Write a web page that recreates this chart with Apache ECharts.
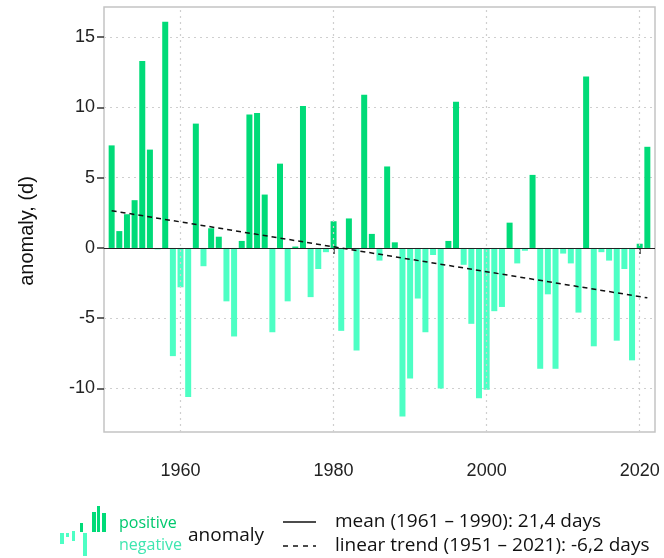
<!DOCTYPE html>
<html>
<head>
<meta charset="utf-8">
<script src="https://cdn.jsdelivr.net/npm/echarts@6/dist/echarts.min.js"></script>
<style>
  html, body { margin: 0; padding: 0; background: #fff; }
  #chart { width: 664px; height: 558px; }
</style>
</head>
<body>
<div id="chart"></div>
<script>
var chart = echarts.init(document.getElementById('chart'));

var years = [];
for (var y = 1951; y <= 2021; y++) years.push(y);

// anomaly in days, 1951..2021
var anomaly = [
  7.3, 1.2, 2.4, 3.4, 13.3, 7.0, -0.1, 16.1, -7.7, -2.8,
  -10.6, 8.85, -1.3, 1.4, 0.8, -3.8, -6.3, 0.5, 9.5, 9.6,
  3.8, -6.0, 6.0, -3.8, 0.1, 10.1, -3.5, -1.5, -0.3, 1.9,
  -5.9, 2.1, -7.3, 10.9, 1.0, -0.9, 5.8, 0.4, -12.0, -9.3,
  -3.6, -6.0, -0.5, -10.0, 0.5, 10.4, -1.2, -5.4, -10.7, -10.1,
  -4.5, -4.2, 1.8, -1.1, -0.2, 5.2, -8.6, -3.3, -8.6, -0.4,
  -1.1, -4.6, 12.2, -7.0, -0.3, -0.9, -6.6, -1.5, -8.0, 0.3,
  7.2
];

var trendYears = [1951, 2021];
var trendValues = [2.65, -3.55];

var xTicks = [1960, 1980, 2000, 2020];
var yTicks = [-10, -5, 0, 5, 10, 15];

var posColor = '#00db78';
var negColor = '#4dffc4';

var posData = [], negData = [];
years.forEach(function (yr, i) {
  var v = anomaly[i];
  posData.push([yr, v >= 0 ? v : 0]);
  negData.push([yr, v < 0 ? v : 0]);
});
var trendData = trendYears.map(function (yr, i) { return [yr, trendValues[i]]; });

var font = '"Liberation Sans", Arial, sans-serif';
var legFont = '"Open Sans", sans-serif';

option = {
  animation: false,
  grid: {
    left: 104, right: 9, top: 7, bottom: 126,
    show: true, borderColor: '#c4c4c4', borderWidth: 1.5
  },
  xAxis: {
    type: 'value', min: 1950, max: 2022,
    axisLine: { show: false },
    axisTick: { show: true, customValues: xTicks, length: 6, lineStyle: { color: '#333', width: 1.5 } },
    axisLabel: {
      customValues: xTicks, margin: 30, fontSize: 18, color: '#222', fontFamily: font,
      formatter: function (v) { return String(v); }
    },
    splitLine: { show: false }
  },
  yAxis: {
    type: 'value', min: -13.1, max: 17.15,
    axisLine: { show: false },
    axisTick: { show: true, customValues: yTicks, length: 7, lineStyle: { color: '#333', width: 1.5 } },
    axisLabel: {
      customValues: yTicks, margin: 9, fontSize: 18, color: '#222', fontFamily: font,
      formatter: function (v) { return String(v); }
    },
    splitLine: { show: true, lineStyle: { type: [2, 4], color: '#cfcfcf', width: 1.2 } }
  },
  series: [
    {
      name: 'positive', type: 'bar', stack: 'a', barWidth: 6,
      itemStyle: { color: posColor },
      data: posData,
      markLine: {
        silent: true, symbol: 'none', label: { show: false },
        lineStyle: { type: [2, 4], color: '#cfcfcf', width: 1.2 },
        data: xTicks.map(function (t) { return { xAxis: t }; })
      }
    },
    {
      name: 'negative', type: 'bar', stack: 'a', barWidth: 6,
      itemStyle: { color: negColor },
      data: negData,
      markLine: {
        silent: true, symbol: 'none', label: { show: false },
        lineStyle: { type: 'solid', color: '#222', width: 1.2 },
        data: [{ yAxis: 0 }]
      }
    },
    {
      name: 'trend', type: 'line', symbol: 'none',
      lineStyle: { color: '#111', width: 1.5, type: [5, 4] },
      data: trendData, z: 5
    }
  ],
  graphic: [
    { type: 'text', x: 27, y: 231, rotation: Math.PI / 2,
      style: { text: 'anomaly, (d)', font: '20px ' + font, fill: '#111', align: 'center', verticalAlign: 'middle' } },
    // legend icon
    { type: 'rect', shape: { x: 60, y: 533, width: 4, height: 11 }, style: { fill: negColor } },
    { type: 'rect', shape: { x: 66, y: 533, width: 3, height: 4 }, style: { fill: negColor } },
    { type: 'rect', shape: { x: 72, y: 531, width: 3, height: 10 }, style: { fill: negColor } },
    { type: 'rect', shape: { x: 83, y: 533, width: 4, height: 23 }, style: { fill: negColor } },
    { type: 'rect', shape: { x: 80, y: 523, width: 3, height: 9 }, style: { fill: posColor } },
    { type: 'rect', shape: { x: 92, y: 512, width: 4, height: 20 }, style: { fill: posColor } },
    { type: 'rect', shape: { x: 97, y: 506, width: 3, height: 26 }, style: { fill: posColor } },
    { type: 'rect', shape: { x: 102, y: 513, width: 4, height: 19 }, style: { fill: posColor } },
    { type: 'text', x: 119, y: 523, style: { text: 'positive', font: '16px ' + legFont, fill: '#00c96e', verticalAlign: 'middle' } },
    { type: 'text', x: 119, y: 545, style: { text: 'negative', font: '16px ' + legFont, fill: '#3fe6b0', verticalAlign: 'middle' } },
    { type: 'text', x: 188, y: 536, style: { text: 'anomaly', font: '19px ' + legFont, fill: '#111', verticalAlign: 'middle' } },
    { type: 'line', shape: { x1: 283, y1: 522, x2: 316, y2: 522 }, style: { stroke: '#111', lineWidth: 1.3 } },
    { type: 'line', shape: { x1: 283, y1: 546, x2: 316, y2: 546 }, style: { stroke: '#111', lineWidth: 1.3, lineDash: [5, 5] } },
    { type: 'text', x: 335, y: 522, style: { text: 'mean (1961 \u2013 1990): 21,4 days', font: '19px ' + legFont, fill: '#111', verticalAlign: 'middle' } },
    { type: 'text', x: 335, y: 546, style: { text: 'linear trend (1951 \u2013 2021): -6,2 days', font: '19px ' + legFont, fill: '#111', verticalAlign: 'middle' } }
  ]
};

chart.setOption(option);
</script>
</body>
</html>
